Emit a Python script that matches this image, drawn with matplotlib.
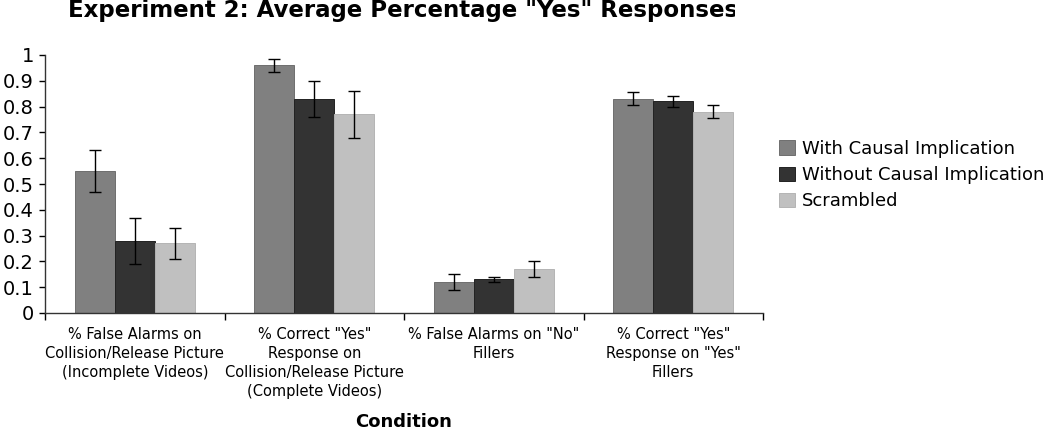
import matplotlib
matplotlib.use("Agg")
import matplotlib.pyplot as plt
import numpy as np
from matplotlib.transforms import Bbox, TransformedBbox

# Data
conditions = [
    '% False Alarms on\nCollision/Release Picture\n(Incomplete Videos)',
    '% Correct "Yes"\nResponse on\nCollision/Release Picture\n(Complete Videos)',
    '% False Alarms on "No"\nFillers',
    '% Correct "Yes"\nResponse on "Yes"\nFillers',
]
series_names = ['With Causal Implication', 'Without Causal Implication', 'Scrambled']
with_causal = [0.55, 0.96, 0.12, 0.83]
with_causal_err = [0.08, 0.025, 0.03, 0.025]
without_causal = [0.28, 0.83, 0.13, 0.82]
without_causal_err = [0.09, 0.07, 0.01, 0.02]
scrambled = [0.27, 0.77, 0.17, 0.78]
scrambled_err = [0.06, 0.09, 0.03, 0.025]
y_ticks = [0, 0.1, 0.2, 0.3, 0.4, 0.5, 0.6, 0.7, 0.8, 0.9, 1]
y_tick_labels = ['0', '0.1', '0.2', '0.3', '0.4', '0.5', '0.6', '0.7', '0.8', '0.9', '1']

colors = ['#808080', '#333333', '#c0c0c0']
edges = ['#6e6e6e', '#222222', '#b4b4b4']

fig = plt.figure(figsize=(10.5, 4.29), dpi=100)
ax = fig.add_axes([45 / 1050, 1 - 313 / 429, (763 - 45) / 1050, (313 - 55) / 429])

x = np.arange(len(conditions))
width = 0.222
all_vals = [with_causal, without_causal, scrambled]
all_errs = [with_causal_err, without_causal_err, scrambled_err]
for i, (vals, errs) in enumerate(zip(all_vals, all_errs)):
    ax.bar(x + (i - 1) * width, vals, width, color=colors[i], edgecolor=edges[i],
           linewidth=0.7, label=series_names[i], zorder=2)
    ax.errorbar(x + (i - 1) * width, vals, yerr=errs, fmt='none', ecolor='black',
                elinewidth=1, capsize=4, capthick=1, zorder=3)

ax.set_xlim(-0.5, len(conditions) - 0.5)
ax.set_ylim(0, 1)
ax.set_yticks(y_ticks)
ax.set_yticklabels(y_tick_labels, fontsize=14)
ax.tick_params(axis='y', length=4, width=1, pad=4, colors='black')

# category labels between boundary ticks
ax.set_xticks(np.arange(-0.5, len(conditions), 1.0))
ax.set_xticklabels([])
ax.set_xticks(x, minor=True)
ax.set_xticklabels(conditions, minor=True, fontsize=10.5, linespacing=1.35,
                   ha='center', va='top')
ax.tick_params(axis='x', which='major', length=5, width=1, direction='out')
ax.tick_params(axis='x', which='minor', length=0, pad=10)

for side in ['top', 'right']:
    ax.spines[side].set_visible(False)
for side in ['left', 'bottom']:
    ax.spines[side].set_color('#333333')
    ax.spines[side].set_linewidth(1)

fig.text(404 / 1050, 1 - 422 / 429, 'Condition', fontsize=13, fontweight='bold',
         ha='center', va='center')

title = fig.text(68 / 1050, 1 - 11 / 429, 'Experiment 2: Average Percentage "Yes" Responses',
                 fontsize=16.5, fontweight='bold', ha='left', va='center')
title.set_clip_box(TransformedBbox(Bbox.from_extents(0, 0, 735 / 1050, 1), fig.transFigure))
title.set_clip_on(True)

ax.legend(loc='center left', bbox_to_anchor=(772 / 1050, 1 - 175 / 429),
          bbox_transform=fig.transFigure, frameon=False, fontsize=13,
          handlelength=0.85, handleheight=0.85, handletextpad=0.4, labelspacing=0.45,
          borderaxespad=0)

fig.savefig('out.png', dpi=100)
